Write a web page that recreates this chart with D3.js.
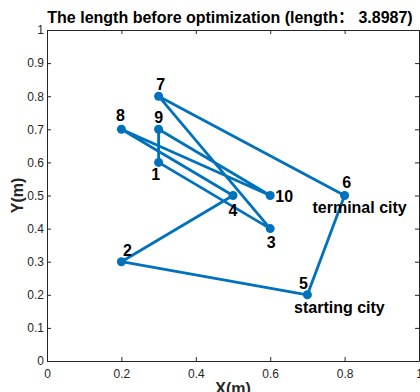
<!DOCTYPE html>
<html><head><meta charset="utf-8">
<script src="https://cdn.jsdelivr.net/npm/d3@7"></script>
<style>body{margin:0;background:#fff}svg{display:block}text{font-family:"Liberation Sans",Arial,"Noto Sans CJK SC",sans-serif}</style>
</head><body>
<script>
const cityIds = [1,2,3,4,5,6,7,8,9,10];
const cityX = [0.3,0.2,0.6,0.5,0.7,0.8,0.3,0.2,0.3,0.6];
const cityY = [0.6,0.3,0.4,0.5,0.2,0.5,0.8,0.7,0.7,0.5];
const route = [5,2,4,8,10,9,1,3,7,6];
const xTicks = [0,0.2,0.4,0.6,0.8,1];
const yTicks = [0,0.1,0.2,0.3,0.4,0.5,0.6,0.7,0.8,0.9,1];
const titleText = "The length before optimization (length\uFF1A 3.8987)";

const W=420,H=392, m={l:47,r:419,t:30,b:361};
const svg=d3.select("body").append("svg").attr("width",W).attr("height",H);
const x=d3.scaleLinear().domain([0,1]).range([m.l,m.r]);
const y=d3.scaleLinear().domain([0,1]).range([m.b,m.t]);
const fmt=d=>d===0?"0":d===1?"1":String(d);

const ax=(g,axis)=>{g.call(axis);g.select(".domain").attr("stroke","#262626");g.selectAll(".tick line").attr("stroke","#262626");g.selectAll("text").attr("fill","#262626").style("font-size","12px");};
svg.append("g").attr("transform",`translate(0,${m.b})`).call(g=>ax(g,d3.axisBottom(x).tickValues(xTicks).tickFormat(fmt).tickSizeInner(-4).tickSizeOuter(0).tickPadding(8)));
svg.append("g").attr("transform",`translate(0,${m.t})`).call(g=>{ax(g,d3.axisTop(x).tickValues(xTicks).tickFormat("").tickSizeInner(-4).tickSizeOuter(0));});
svg.append("g").attr("transform",`translate(${m.l},0)`).call(g=>ax(g,d3.axisLeft(y).tickValues(yTicks).tickFormat(fmt).tickSizeInner(-4).tickSizeOuter(0).tickPadding(3)));
svg.append("g").attr("transform",`translate(${m.r},0)`).call(g=>{ax(g,d3.axisRight(y).tickValues(yTicks).tickFormat("").tickSizeInner(-4).tickSizeOuter(0));});

const pts=route.map(id=>{const i=cityIds.indexOf(id);return [cityX[i],cityY[i]];});
svg.append("path").attr("d",d3.line().x(d=>x(d[0])).y(d=>y(d[1]))(pts.concat([pts[0]])))
  .attr("fill","none").attr("stroke","#0072BD").attr("stroke-width",2.8).attr("stroke-linejoin","round");
svg.selectAll("circle.c").data(cityIds).join("circle").attr("cx",(d,i)=>x(cityX[i])).attr("cy",(d,i)=>y(cityY[i])).attr("r",4.5).attr("fill","#0072BD");

// label offsets (style)
const off={1:[-3,18],2:[6,-6],3:[1,19],4:[0,20],5:[-4,-6],6:[2,-8],7:[2,-6],8:[-1,-8],9:[0,-6],10:[14,6]};
svg.selectAll("text.lab").data(cityIds).join("text").attr("x",(d,i)=>x(cityX[i])+off[d][0]).attr("y",(d,i)=>y(cityY[i])+off[d][1])
  .attr("text-anchor","middle").attr("font-weight","bold").style("font-size","16px").attr("fill","#000").text(d=>d);
svg.append("text").attr("x",x(0.8)+15).attr("y",y(0.5)+17).attr("text-anchor","middle").attr("font-weight","bold").style("font-size","16px").text("terminal city");
svg.append("text").attr("x",x(0.7)+32).attr("y",y(0.2)+18).attr("text-anchor","middle").attr("font-weight","bold").style("font-size","16px").text("starting city");

svg.append("text").attr("x",230).attr("y",23).attr("text-anchor","middle").attr("font-weight","bold").style("font-size","16px").text(titleText);
svg.append("text").attr("x",(m.l+m.r)/2).attr("y",394).attr("text-anchor","middle").attr("font-weight","bold").style("font-size","16px").attr("fill","#262626").text("X(m)");
svg.append("text").attr("transform",`translate(23,${(m.t+m.b)/2}) rotate(-90)`).attr("text-anchor","middle").attr("font-weight","bold").style("font-size","16px").attr("fill","#262626").text("Y(m)");
</script>
</body></html>
